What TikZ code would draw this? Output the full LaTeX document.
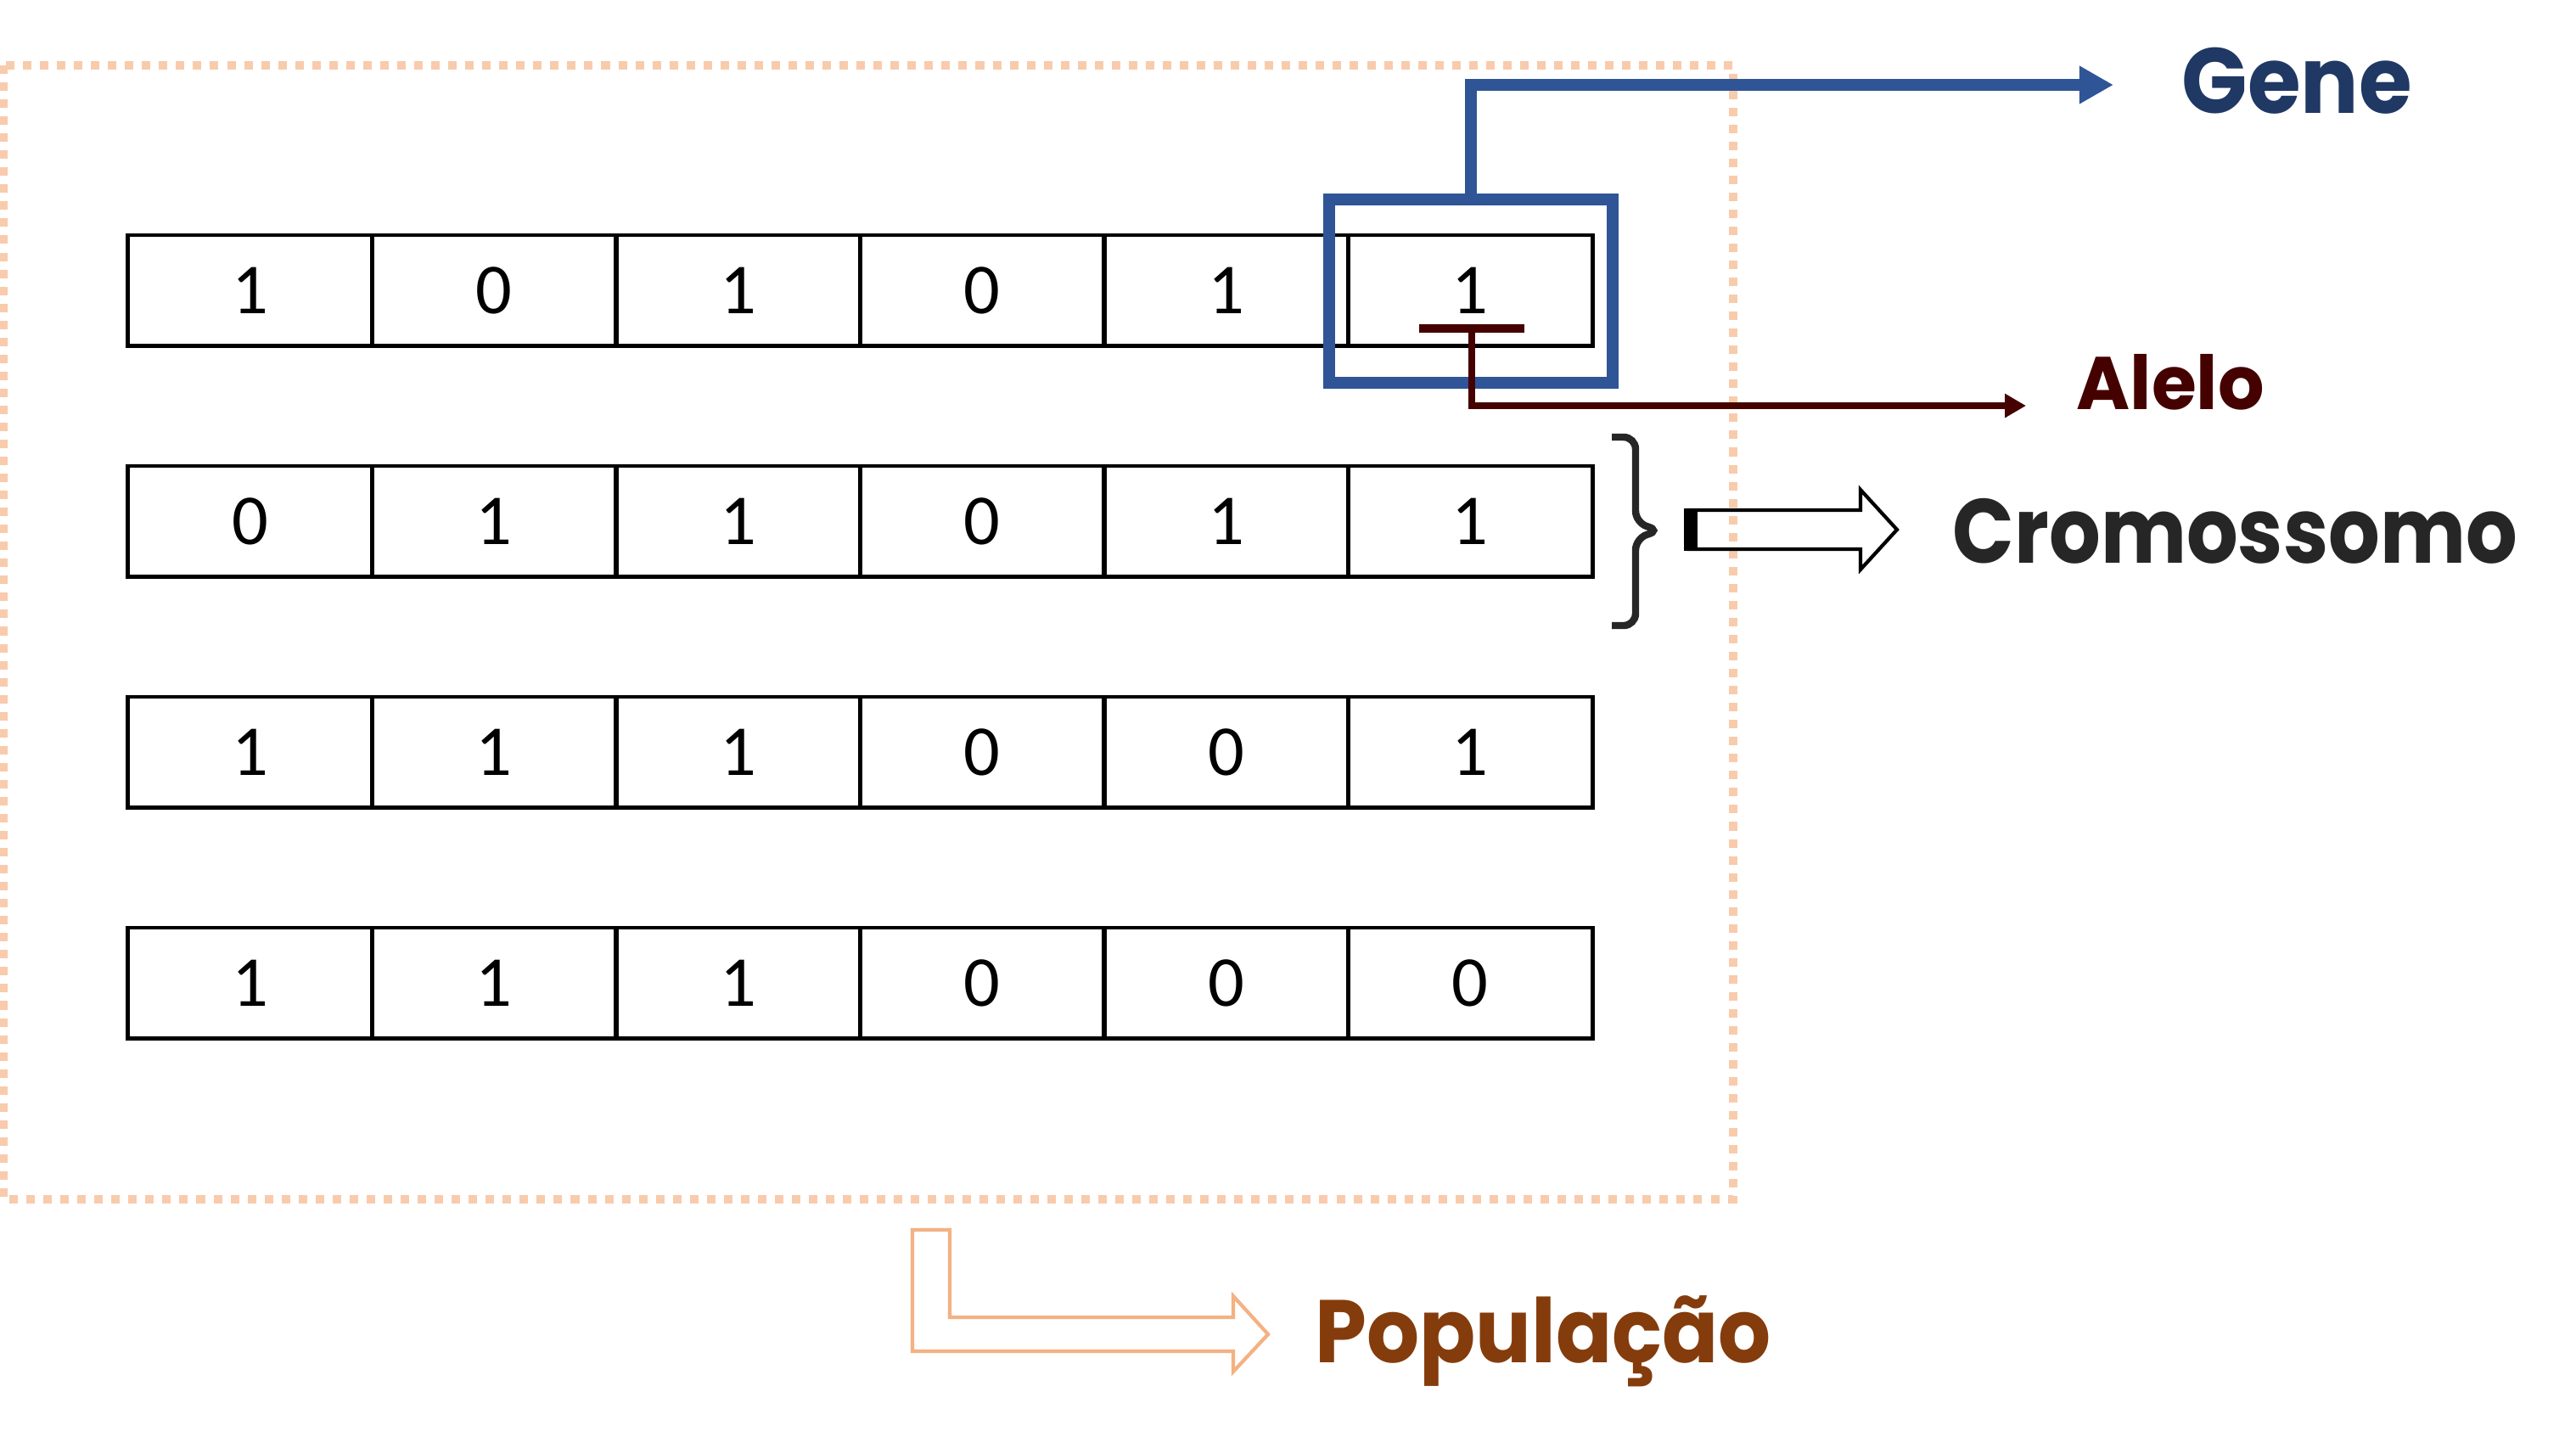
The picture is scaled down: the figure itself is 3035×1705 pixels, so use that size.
\documentclass[tikz,border=0pt]{standalone}
\usepackage{fontspec}
\setmainfont{Carlito}
\newfontfamily\lblfont{Poppins}
\usetikzlibrary{arrows.meta}
\definecolor{geneblue}{HTML}{2F5597}
\definecolor{genetext}{HTML}{1F3864}
\definecolor{alelored}{HTML}{450000}
\definecolor{darkgray}{HTML}{262626}
\definecolor{popdash}{HTML}{F8CBAD}
\definecolor{poparrow}{HTML}{F4B183}
\definecolor{poptext}{HTML}{843C0C}
\tikzset{
  cell/.style={draw=black, line width=1.4pt, minimum width=2.875cm, minimum height=1.30cm, inner sep=0pt, outer sep=0pt, font=\fontsize{24}{28}\selectfont},
  popbox/.style={draw=popdash, line width=2.85pt, dash pattern=on 2.85pt off 2.85pt},
  genebox/.style={draw=geneblue, line width=4pt, minimum width=3.34cm, minimum height=2.16cm, inner sep=0pt},
  geneline/.style={draw=geneblue, line width=4pt, -{Triangle[length=0.4cm,width=0.42cm]}},
  alelobar/.style={fill=alelored, minimum width=1.24cm, minimum height=0.10cm, inner sep=0pt, outer sep=0pt},
  aleloline/.style={draw=alelored, line width=2.3pt, -{Triangle[length=0.25cm,width=0.27cm]}},
  bracestyle/.style={draw=darkgray, line width=2.4pt, rounded corners=4pt},
  cromarrow/.style={draw=black, line width=1.2pt, line join=miter},
  bentarrow/.style={draw=poparrow, line width=1.2pt, line join=miter},
  lbl/.style={anchor=base west, inner sep=0pt, font=\lblfont\bfseries}
}
\begin{document}
\begin{tikzpicture}[x=0.01cm, y=-0.01cm]
\useasboundingbox (0,0) rectangle (3035,1705);
\fill[white] (0,0) rectangle (3035,1705);

% population dashed frame
\draw[popbox] (4,77) rectangle (2042,1413);

% chromosomes
\foreach \v [count=\k from 0] in {1,0,1,0,1,1}
  \node[cell] (r1c\k) at ({151+287.5*(\k+0.5)},342) {\v};
\foreach \v [count=\k from 0] in {0,1,1,0,1,1}
  \node[cell] (r2c\k) at ({151+287.5*(\k+0.5)},614) {\v};
\foreach \v [count=\k from 0] in {1,1,1,0,0,1}
  \node[cell] (r3c\k) at ({151+287.5*(\k+0.5)},886) {\v};
\foreach \v [count=\k from 0] in {1,1,1,0,0,0}
  \node[cell] (r4c\k) at ({151+287.5*(\k+0.5)},1158) {\v};

% gene
\node[genebox] (gbox) at (1733,343) {};
\coordinate (gtip) at (2490,100);
\draw[geneline] (gbox.north) |- (gtip);
\node[lbl, text=genetext, font=\lblfont\bfseries\fontsize{31}{36}\selectfont] (gene) at (2570,133) {\resizebox{2.71cm}{\height}{Gene}};

% alelo
\node[alelobar] (abar) at (1734,387) {};
\coordinate (atip) at (2387,478);
\draw[aleloline] (abar.center) |- (atip);
\node[lbl, text=alelored, font=\lblfont\bfseries\fontsize{25}{30}\selectfont] (alelo) at (2446,482) {\resizebox{2.21cm}{\height}{Alelo}};

% cromossomo brace and arrow
\draw[bracestyle] (1899,515) -- (1927,515) -- (1927,616) -- (1956,625) -- (1927,634) -- (1927,737) -- (1899,737);
\fill[black] (1984,599) rectangle (2000,649);
\draw[cromarrow] (1990,601) -- (2192,601) -- (2192,577) -- (2235,624) -- (2192,671) -- (2192,647) -- (1990,647) -- cycle;
\node[lbl, text=darkgray, font=\lblfont\bfseries\fontsize{30.5}{36}\selectfont] (cromo) at (2300,663) {\resizebox{6.65cm}{\height}{Cromossomo}};

% populacao
\draw[bentarrow] (1075,1449) -- (1119,1449) -- (1119,1552) -- (1453,1552) -- (1453,1527) -- (1494,1572) -- (1453,1616) -- (1453,1592) -- (1075,1592) -- cycle;
\node[lbl, text=poptext, font=\lblfont\bfseries\fontsize{29.8}{36}\selectfont] (popul) at (1549,1605) {\resizebox{5.37cm}{\height}{População}};
\end{tikzpicture}
\end{document}
